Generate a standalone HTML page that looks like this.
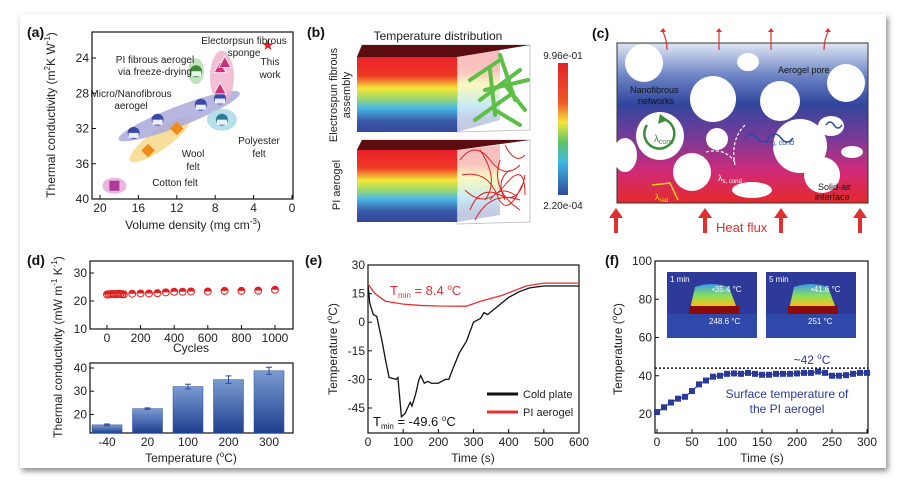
<!DOCTYPE html>
<html><head><meta charset="utf-8"><style>
html,body{margin:0;padding:0;background:#fff;width:905px;height:486px;overflow:hidden}
svg{display:block;font-family:"Liberation Sans",sans-serif}
</style></head><body>
<svg id="fig" width="905" height="486" viewBox="0 0 905 486">
<defs>
<filter id="sh" x="-5%" y="-5%" width="110%" height="110%"><feDropShadow dx="2" dy="3" stdDeviation="3" flood-color="#555" flood-opacity="0.7"/></filter>
<linearGradient id="cubeG" x1="0" y1="0" x2="0" y2="1">
<stop offset="0" stop-color="#e8202a"/><stop offset="0.25" stop-color="#ef3a26"/><stop offset="0.42" stop-color="#f3e838"/><stop offset="0.55" stop-color="#9fd86a"/><stop offset="0.68" stop-color="#4ab8e6"/><stop offset="0.85" stop-color="#3a5aa8"/><stop offset="1" stop-color="#34469a"/></linearGradient>
<linearGradient id="cbG" x1="0" y1="0" x2="0" y2="1">
<stop offset="0" stop-color="#e3202a"/><stop offset="0.3" stop-color="#ef5a28"/><stop offset="0.45" stop-color="#f5e53a"/><stop offset="0.6" stop-color="#5cc468"/><stop offset="0.75" stop-color="#3fb8e4"/><stop offset="1" stop-color="#2f4a9c"/></linearGradient>
<linearGradient id="cG" x1="0" y1="0" x2="0" y2="1">
<stop offset="0" stop-color="#dfe6f4"/><stop offset="0.2" stop-color="#6f86c6"/><stop offset="0.38" stop-color="#31469e"/><stop offset="0.6" stop-color="#7a3a98"/><stop offset="0.8" stop-color="#d02a78"/><stop offset="1" stop-color="#e52a2a"/></linearGradient>
<linearGradient id="barG" x1="0" y1="0" x2="0" y2="1"><stop offset="0" stop-color="#7b9bd2"/><stop offset="1" stop-color="#1d3f8f"/></linearGradient>
<linearGradient id="irG" x1="0" y1="0" x2="0" y2="1"><stop offset="0" stop-color="#3a9be8"/><stop offset="0.4" stop-color="#8ce05a"/><stop offset="0.7" stop-color="#f0c020"/><stop offset="1" stop-color="#e04010"/></linearGradient>
</defs>
<rect x="20" y="14" width="866" height="454" fill="#fff" filter="url(#sh)"/>

<g font-weight="bold" font-size="14" fill="#111">
<text x="27" y="37">(a)</text>
<text x="307" y="37">(b)</text>
<text x="592" y="38">(c)</text>
<text x="27" y="265">(d)</text>
<text x="305" y="265">(e)</text>
<text x="605" y="265">(f)</text>
</g>

<g>
<text x="438" y="40" font-size="12" text-anchor="middle" fill="#222">Temperature distribution</text>
<polygon points="357,57 362,45 530,45 530,130 457,132 457,57" fill="none" stroke="#bbb" stroke-width="0.8"/>
<polygon points="357,57 362,45 530,45 457,57" fill="#5a0c10"/>
<rect x="357" y="57" width="100" height="75" fill="url(#cubeG)"/>
<polygon points="457,57 500,50 500,120 457,132" fill="url(#cubeG)" opacity="0.3"/>
<g stroke="#5dbf45" stroke-width="4" stroke-linecap="round">
<line x1="470" y1="80" x2="500" y2="60"/><line x1="480" y1="100" x2="520" y2="70"/><line x1="490" y1="70" x2="495" y2="115"/><line x1="505" y1="85" x2="525" y2="110"/><line x1="475" y1="120" x2="510" y2="95"/><line x1="500" y1="55" x2="515" y2="100"/><line x1="485" y1="90" x2="528" y2="80"/><line x1="495" y1="110" x2="520" y2="125"/>
</g>
<polygon points="357,150 362,140 530,140 530,222 457,224 457,150" fill="none" stroke="#bbb" stroke-width="0.8"/>
<polygon points="357,150 362,140 530,140 457,150" fill="#5a0c10"/>
<rect x="357" y="150" width="100" height="72" fill="url(#cubeG)"/>
<polygon points="457,150 500,145 500,215 457,222" fill="url(#cubeG)" opacity="0.3"/>
<g fill="none" stroke="#e02020" stroke-width="1">
<path d="M460,160 q15,-20 30,0 t30,5 M465,190 q20,20 40,-5 t20,10 M470,210 q10,-25 30,-15 t25,-20 M480,150 q20,30 5,50 M500,160 q-10,30 20,50 M462,175 q25,-5 35,20 t25,-10 M475,220 q15,-30 45,-20 M505,145 q10,20 20,10 M490,200 q10,-15 25,-5 M510,170 q-15,10 -5,30"/>
</g>
<text transform="translate(343,95) rotate(-90)" font-size="11" text-anchor="middle" fill="#222"><tspan x="0" dy="-6">Electrospun fibrous</tspan><tspan x="0" dy="13">assembly</tspan></text>
<text transform="translate(340,185) rotate(-90)" font-size="11" text-anchor="middle" fill="#222">PI aerogel</text>
<rect x="558" y="63" width="10" height="132" fill="url(#cbG)"/>
<text x="563" y="59" font-size="10" text-anchor="middle" fill="#222">9.96e-01</text>
<text x="563" y="209" font-size="10" text-anchor="middle" fill="#222">2.20e-04</text>
</g>

<g>
<rect x="617" y="43" width="251" height="160" fill="url(#cG)" stroke="#333" stroke-width="1"/>
<g fill="#fff">
<circle cx="644" cy="63" r="19"/><ellipse cx="748" cy="62" rx="11" ry="9"/><circle cx="713" cy="99" r="23"/><circle cx="780" cy="101" r="20"/><circle cx="846" cy="83" r="19"/>
<circle cx="660" cy="136" r="24"/><circle cx="717" cy="139" r="11"/><circle cx="800" cy="146" r="27"/><ellipse cx="831" cy="126" rx="13" ry="10"/>
<ellipse cx="625" cy="155" rx="12" ry="17"/><circle cx="692" cy="172" r="19"/><ellipse cx="852" cy="152" rx="11" ry="6"/><circle cx="822" cy="175" r="18"/><ellipse cx="752" cy="190" rx="20" ry="8"/>
</g>
<path d="M647,125 a15,15 0 1,0 16,-6" fill="none" stroke="#3d8a3a" stroke-width="2.5"/>
<polygon points="660,114 668,120 658,124" fill="#3d8a3a"/>
<text x="654" y="142" font-size="10" fill="#3d8a3a">λ<tspan font-size="7" dy="2">conv</tspan></text>
<path d="M745,138 q6,-8 12,0 t12,0 t12,0 t12,0" fill="none" stroke="#2a4aa8" stroke-width="1.5"/>
<text x="766" y="143" font-size="10" fill="#2a4aa8">λ<tspan font-size="7" dy="2">g, cond</tspan></text>
<path d="M826,125 q4,-6 8,0 t8,0" fill="none" stroke="#2a4aa8" stroke-width="1.5"/>
<path d="M706,152 q20,-5 30,12 M735,165 q-5,-25 10,-40" fill="none" stroke="#fff" stroke-width="1.2" stroke-dasharray="3,2"/>
<text x="718" y="181" font-size="9" fill="#fff">λ<tspan font-size="6" dy="2">s, cond</tspan></text>
<path d="M652,185 L670,183 L678,200" fill="none" stroke="#f5d020" stroke-width="1.5"/>
<text x="655" y="200" font-size="9" fill="#f5d020">λ<tspan font-size="6" dy="2">rad</tspan></text>
<text x="630" y="93" font-size="9" fill="#111"><tspan x="630">Nanofibrous</tspan><tspan x="638" dy="11">networks</tspan></text>
<text x="778" y="73" font-size="9" fill="#111">Aerogel pore</text>
<text x="818" y="190" font-size="9" fill="#111"><tspan x="818">Solid-air</tspan><tspan x="815" dy="10">interface</tspan></text>
<g fill="#e03030"><path d="M616,208 l-7,10 h5 v15 h4 v-15 h5 z"/><path d="M705,208 l-7,10 h5 v15 h4 v-15 h5 z"/><path d="M781,208 l-7,10 h5 v15 h4 v-15 h5 z"/><path d="M860,208 l-7,10 h5 v15 h4 v-15 h5 z"/></g>
<text x="716" y="232" font-size="13" fill="#e03030">Heat flux</text>
<g stroke="#e03030" stroke-width="1.2" fill="none"><path d="M667,50 q0,-10 -4,-18"/><path d="M719,50 v-18"/><path d="M771,50 v-18"/><path d="M824,50 q0,-10 4,-18"/></g>
<g fill="#e03030"><path d="M660,32 l3,-4 l3,4 z"/><path d="M716,32 l3,-4 l3,4 z"/><path d="M768,32 l3,-4 l3,4 z"/><path d="M825,32 l3,-4 l3,4 z"/></g>
</g>

<g id="chartA"></g>
<g id="chartD"></g>
<g id="chartE"></g>
<g id="chartF"></g>
</svg>
<script>
const aDensity = [18.5, 15, 12, 16.5, 14, 9.5, 7.5, 10, 7.5, 7.5, 7, 7.3, 2.5];
const aConductivity = [38.5, 34.5, 32, 32.5, 31, 29.3, 28.6, 25.5, 27.5, 25.1, 24.5, 31, 22.5];
const aGroup = ["cotton","wool","wool","micro","micro","micro","micro","pi","sponge","sponge","sponge","polyester","this"];
const aXTicks = [20, 16, 12, 8, 4, 0];
const aYTicks = [24, 28, 32, 36, 40];
const dCycles = [0,10,20,30,40,50,60,70,80,90,100,150,200,250,300,350,400,450,500,600,700,800,900,1000];
const dCycleK = [22.3,22.4,22.4,22.5,22.5,22.4,22.5,22.6,22.5,22.4,22.4,22.6,22.7,22.7,22.8,23.1,23.3,23.3,23.4,23.4,23.6,23.6,23.7,24.0];
const dXTicks = [0,200,400,600,800,1000];
const dYTicks = [10,20,30];
const dTemps = ["-40","20","100","200","300"];
const dTempK = [15.5,22.5,32,35,38.8];
const dTempErr = [0.4,0.3,1.0,1.6,1.5];
const dBarYTicks = [20,30,40];
const eColdT = [0,5,15,25,40,50,60,80,85,95,105,120,125,135,145,150,160,170,180,200,220,230,240,260,280,300,320,330,340,360,380,400,430,460,500,600];
const eColdV = [20,10,4,3,-10,-20,-29,-30,-29,-49.6,-48,-42,-44,-38,-30,-28,-32,-31,-32,-32,-30,-30,-25,-16,-10,0,2,5,4,7,10,13,16,18,19,19];
const eAeroT = [0,20,50,100,150,200,280,320,380,450,500,600];
const eAeroV = [20,15,11,9.5,8.8,8.5,8.4,11,14,19,20.5,20.5];
const eXTicks = [0,100,200,300,400,500,600];
const eYTicks = [30,15,0,-15,-30,-45];
const fTime = [0,10,20,30,40,50,60,70,80,90,100,110,120,130,140,150,160,170,180,190,200,210,220,230,240,250,260,270,280,290,300];
const fTemp = [21,23.5,26,28,29,32,35.5,37.5,39.5,40,41,41.2,41,41.5,41,40.5,40.5,41,41,41,41.2,41.5,41.5,42.2,41.5,40,40,40.3,41,41.5,41.5];
const fXTicks = [0,50,100,150,200,250,300];
const fYTicks = [20,40,60,80,100];
const fRef = [44];

const NS="http://www.w3.org/2000/svg";
function mk(p,tag,at,txt){const e=document.createElementNS(NS,tag);for(const k in at)e.setAttribute(k,at[k]);if(txt!==undefined)e.textContent=txt;p.appendChild(e);return e;}
function lin(d0,d1,r0,r1){return v=>r0+(v-d0)*(r1-r0)/(d1-d0);}
function frame(g,x0,y0,x1,y1){const r=mk(g,'rect',{x:x0,y:y0,width:x1-x0,height:y1-y0,fill:'none',stroke:'#111','stroke-width':1.2});

}
function xt(g,ticks,sx,y,lab,fs){ticks.forEach((t,i)=>{mk(g,'line',{x1:sx(t),x2:sx(t),y1:y,y2:y-4,stroke:'#111'});const e=mk(g,'text',{x:sx(t),y:y+13,'font-size':fs||12,'text-anchor':'middle',fill:'#222'},lab?lab[i]:t);

});}
function yt(g,ticks,sy,x,fs){ticks.forEach(t=>{mk(g,'line',{x1:x,x2:x+4,y1:sy(t),y2:sy(t),stroke:'#111'});const e=mk(g,'text',{x:x-3,y:sy(t)+4,'font-size':fs||12,'text-anchor':'end',fill:'#222'},t);

});}
function ytitle(g,x,y,txt,fs){const e=mk(g,'text',{transform:`translate(${x},${y}) rotate(-90)`,'font-size':fs||12,'text-anchor':'middle',fill:'#222'});e.innerHTML=txt;

return e;}
function xtitle(g,x,y,txt,fs){const e=mk(g,'text',{x:x,y:y,'font-size':fs||12,'text-anchor':'middle',fill:'#222'});e.innerHTML=txt;

return e;}

(function(){const g=document.getElementById('chartA');
const sx=lin(20,0,100,292), sy=lin(24,40,58,199);
const blobs=[["#e6a8d8",18.5,38.5,18.5,38.5,12,8],["#f6d98a",16,35,11.5,31.5,10,10],["#a9a9dc",17,32.8,6.5,28.4,11,10],["#b8dcb0",10,25.5,10,25.5,8,13],["#f0b4cc",7.3,24.3,7.3,28,10,12],["#a8dbe6",7.3,31,7.3,31,15,11]];
blobs.forEach(b=>{const x1=sx(b[1]),y1=sy(b[2]),x2=sx(b[3]),y2=sy(b[4]);const cx=(x1+x2)/2,cy=(y1+y2)/2;const len=Math.hypot(x2-x1,y2-y1)/2+b[5];const ang=Math.atan2(y2-y1,x2-x1)*180/Math.PI;
const e=mk(g,'ellipse',{cx:cx,cy:cy,rx:len,ry:b[6],transform:`rotate(${ang} ${cx} ${cy})`,fill:b[0],opacity:0.85});

});
frame(g,92,32,293,199);
xt(g,aXTicks,sx,199);yt(g,aYTicks,sy,92);
ytitle(g,55,115,'Thermal conductivity (m<tspan font-size="8" dy="-5">2</tspan><tspan dy="5">K W</tspan><tspan font-size="8" dy="-5">-1</tspan><tspan dy="5">)</tspan>',12);
xtitle(g,193,229,'Volume density (mg cm<tspan font-size="8" dy="-5">-3</tspan><tspan dy="5">)</tspan>',12);
const col={cotton:"#b03a9a",wool:"#f08a1a",micro:"#3a4aa8",pi:"#3d8a3a",sponge:"#d0307a",polyester:"#2a7aa0",this:"#e02020"};
aDensity.forEach((d,i)=>{const x=sx(d),y=sy(aConductivity[i]),c=col[aGroup[i]];let e;
if(aGroup[i]==="this"){e=mk(g,'text',{x:x,y:y+5,'font-size':15,'text-anchor':'middle',fill:c},'★');}
else if(aGroup[i]==="sponge"){e=mk(g,'polygon',{points:`${x},${y-6} ${x-6},${y+5} ${x+6},${y+5}`,fill:c,stroke:'#fff','stroke-width':0.8});}
else if(aGroup[i]==="wool"){e=mk(g,'polygon',{points:`${x},${y-6} ${x+6},${y} ${x},${y+6} ${x-6},${y}`,fill:c,stroke:c});}
else if(aGroup[i]==="cotton"){e=mk(g,'rect',{x:x-5,y:y-5,width:10,height:10,fill:c});}
else{e=mk(g,'circle',{cx:x,cy:y,r:5.5,fill:c,stroke:c});mk(g,'rect',{x:x-5,y:y,width:10,height:5,fill:'#fff',opacity:0.9});}

});
const labs=[[244,44,"Electorpsun fibrous"],[244,56,"sponge"],[155,63,"PI fibrous aerogel"],[155,75,"via freeze-drying"],[131,97,"Micro/Nanofibrous"],[131,109,"aerogel"],[259,144,"Polyester"],[259,157,"felt"],[193,157,"Wool"],[193,170,"felt"],[175,186,"Cotton felt"],[270,65,"This"],[270,78,"work"]];
labs.forEach(l=>{const e=mk(g,'text',{x:l[0],y:l[1],'font-size':10,'text-anchor':'middle',fill:'#222'},l[2]);

});
})();

(function(){const g=document.getElementById('chartD');
const sx=lin(0,1000,107,275), sy=lin(30,10,273,329);
frame(g,90,261,293,329);xt(g,dXTicks,sx,329);yt(g,dYTicks,sy,90);
xtitle(g,191,352,'Cycles',12);
dCycles.forEach((c,i)=>{const x=sx(c),y=sy(dCycleK[i]);
const e=mk(g,'circle',{cx:x,cy:y,r:3.5,fill:'none',stroke:'#e02020','stroke-width':1});


mk(g,'path',{d:`M${x-3.5},${y} a3.5,3.5 0 0,1 7,0 z`,fill:'#e02020'});});
const by=lin(40,12,368,433);const bx=i=>107+i*40.5;
frame(g,90,363,293,433);
dTempK.forEach((v,i)=>{const x=bx(i);const r=mk(g,'rect',{x:x-15,y:by(v),width:30,height:433-by(v),fill:'url(#barG)',stroke:'#2a4a9a','stroke-width':0.5});


const t=by(v+dTempErr[i]),b=by(v-dTempErr[i]);mk(g,'path',{d:`M${x},${t}V${b}M${x-3},${t}h6M${x-3},${b}h6`,stroke:'#2a4a9a','stroke-width':1});
const l=mk(g,'text',{x:x,y:446,'font-size':12,'text-anchor':'middle',fill:'#222'},dTemps[i]);

});
yt(g,dBarYTicks,by,90);
xtitle(g,191,462,'Temperature (<tspan font-size="8" dy="-5">o</tspan><tspan dy="5">C)</tspan>',12);
ytitle(g,62,347,'Thermal conductivity (mW m<tspan font-size="8" dy="-5">-1</tspan><tspan dy="5"> K</tspan><tspan font-size="8" dy="-5">-1</tspan><tspan dy="5">)</tspan>',12);
})();

(function(){const g=document.getElementById('chartE');
const sx=lin(0,600,368,579), sy=lin(30,-45,265,408);
frame(g,368,265,579,433);xt(g,eXTicks,sx,433);yt(g,eYTicks,sy,368);
xtitle(g,473,462,'Time (s)',12);ytitle(g,337,349,'Temperature (<tspan font-size="8" dy="-5">o</tspan><tspan dy="5">C)</tspan>',12);
const p1=mk(g,'path',{d:'M'+eColdT.map((t,i)=>sx(t)+','+sy(eColdV[i])).join('L'),fill:'none',stroke:'#111','stroke-width':1.3});


const p2=mk(g,'path',{d:'M'+eAeroT.map((t,i)=>sx(t)+','+sy(eAeroV[i])).join('L'),fill:'none',stroke:'#e83030','stroke-width':1.3});


const a=mk(g,'text',{x:390,y:295,'font-size':13,fill:'#e83030'});a.innerHTML='T<tspan font-size="8" dy="3">min</tspan><tspan dy="-3"> = 8.4 </tspan><tspan font-size="8" dy="-5">o</tspan><tspan dy="5">C</tspan>';


const b=mk(g,'text',{x:373,y:426,'font-size':13,fill:'#111'});b.innerHTML='T<tspan font-size="8" dy="3">min</tspan><tspan dy="-3"> = -49.6 </tspan><tspan font-size="8" dy="-5">o</tspan><tspan dy="5">C</tspan>';


mk(g,'line',{x1:487,x2:518,y1:394,y2:394,stroke:'#111','stroke-width':3});
mk(g,'line',{x1:487,x2:518,y1:412,y2:412,stroke:'#e83030','stroke-width':3});
const l1=mk(g,'text',{x:523,y:398,'font-size':11,fill:'#222'},'Cold plate');


const l2=mk(g,'text',{x:523,y:416,'font-size':11,fill:'#222'},'PI aerogel');


})();

(function(){const g=document.getElementById('chartF');
const sx=lin(0,300,657,867), sy=lin(100,20,261,414);
frame(g,655,261,868,433);xt(g,fXTicks,sx,433);yt(g,fYTicks,sy,655);
xtitle(g,762,462,'Time (s)',12);ytitle(g,622,349,'Temperature (<tspan font-size="8" dy="-5">o</tspan><tspan dy="5">C)</tspan>',12);
[[667,"1 min","35.4","248.6"],[766,"5 min","41.6","251"]].forEach(s=>{const x=s[0];
const r=mk(g,'rect',{x:x,y:272,width:90,height:66,fill:'#2e3a9a'});


mk(g,'path',{d:`M${x+22},314 L${x+28},287 Q${x+45},281 ${x+62},287 L${x+72},314 Z`,fill:'url(#irG)'});
mk(g,'rect',{x:x+22,y:306,width:50,height:8,fill:'#8a0a0a'});
mk(g,'rect',{x:x,y:314,width:90,height:24,fill:'#3050b0',opacity:0.7});
mk(g,'text',{x:x+3,y:282,'font-size':8,fill:'#fff'},s[1]);
mk(g,'text',{x:x+45,y:292,'font-size':8,fill:'#fff'},'•'+s[2]+' °C');
mk(g,'text',{x:x+42,y:324,'font-size':8,fill:'#fff'},s[3]+' °C');});
fRef.forEach(v=>{const l=mk(g,'line',{x1:655,x2:868,y1:sy(v),y2:sy(v),stroke:'#111','stroke-width':1.5,'stroke-dasharray':'2,2'});

});
const p=mk(g,'path',{d:'M'+fTime.map((t,i)=>sx(t)+','+sy(fTemp[i])).join('L'),fill:'none',stroke:'#2a3a9a','stroke-width':1.2});


fTime.forEach((t,i)=>{const r=mk(g,'rect',{x:sx(t)-3,y:sy(fTemp[i])-3,width:6,height:6,fill:'#2a3a9a'});

});
const a=mk(g,'text',{x:812,y:364,'font-size':12,'text-anchor':'middle',fill:'#2a3a9a'});a.innerHTML='~42 <tspan font-size="8" dy="-5">o</tspan><tspan dy="5">C</tspan>';


const b=mk(g,'text',{x:787,y:398,'font-size':12,'text-anchor':'middle',fill:'#2a3a9a'});b.innerHTML='<tspan x="787">Surface temperature of</tspan><tspan x="787" dy="15">the PI aerogel</tspan>';


})();
</script>
</body></html>
